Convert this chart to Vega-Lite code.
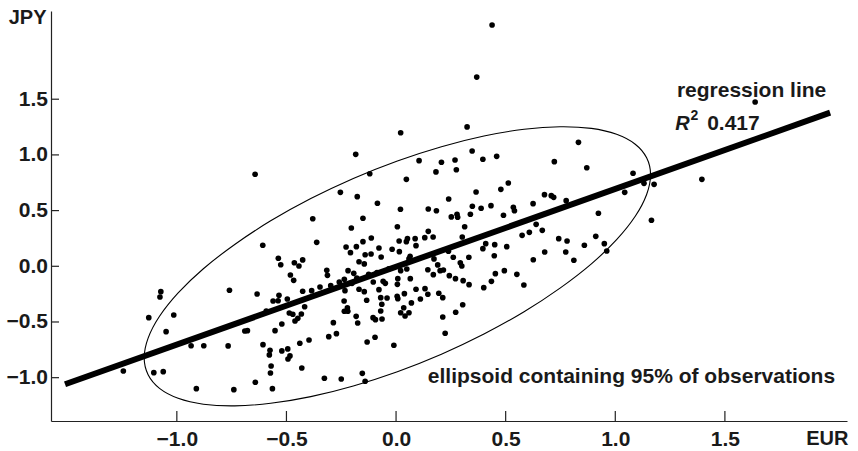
{
  "$schema": "https://vega.github.io/schema/vega-lite/v6.json",
  "width": 796,
  "height": 410,
  "autosize": {"type": "none"},
  "padding": {"left": 51, "top": 11, "right": 11, "bottom": 30},
  "background": "white",
  "config": {"view": {"stroke": null}, "font": "Liberation Sans"},
  "datasets": {
    "pts": [
      {"x":-0.537,"y":0.072},{"x":-0.526,"y":0.014},{"x":-0.464,"y":0.032},{"x":-0.443,"y":0.003},{"x":-0.426,"y":0.057},
      {"x":-0.482,"y":-0.078},{"x":-0.467,"y":-0.126},{"x":-1.073,"y":-0.228},{"x":-1.077,"y":-0.276},{"x":-0.760,"y":-0.215},
      {"x":-0.634,"y":-0.249},{"x":-0.534,"y":-0.260},{"x":-0.561,"y":-0.312},{"x":-0.538,"y":-0.309},{"x":-0.496,"y":-0.294},
      {"x":-0.426,"y":-0.224},{"x":-1.128,"y":-0.461},{"x":-1.014,"y":-0.437},{"x":-0.592,"y":-0.401},{"x":-0.487,"y":-0.419},
      {"x":-0.471,"y":-0.431},{"x":-0.432,"y":-0.428},{"x":-0.417,"y":-0.363},{"x":-0.461,"y":-0.491},{"x":-0.448,"y":-0.467},
      {"x":-0.521,"y":-0.518},{"x":-0.552,"y":-0.578},{"x":-0.690,"y":-0.581},{"x":-0.678,"y":-0.578},{"x":-1.049,"y":-0.587},
      {"x":-0.935,"y":-0.713},{"x":-0.877,"y":-0.713},{"x":-0.766,"y":-0.715},{"x":-0.607,"y":-0.704},{"x":-0.575,"y":-0.754},
      {"x":-0.578,"y":-0.796},{"x":-0.521,"y":-0.760},{"x":-0.494,"y":-0.742},{"x":-0.484,"y":-0.805},{"x":-0.493,"y":-0.832},
      {"x":-0.439,"y":-0.691},{"x":-0.397,"y":-0.662},{"x":-0.570,"y":-0.895},{"x":-0.573,"y":-0.958},{"x":-0.430,"y":-0.913},
      {"x":-1.244,"y":-0.940},{"x":-1.105,"y":-0.955},{"x":-1.062,"y":-0.946},{"x":-0.642,"y":-1.041},{"x":-0.564,"y":-1.099},
      {"x":-0.740,"y":-1.108},{"x":-0.911,"y":-1.099},
      {"x":-0.208,"y":0.122},{"x":-0.141,"y":0.104},{"x":-0.114,"y":0.110},{"x":-0.068,"y":0.083},{"x":0.015,"y":0.131},
      {"x":0.064,"y":0.090},{"x":0.059,"y":0.066},{"x":-0.169,"y":0.041},{"x":-0.145,"y":0.021},{"x":0.173,"y":0.066},
      {"x":0.239,"y":0.135},{"x":0.261,"y":0.081},{"x":0.293,"y":0.032},{"x":0.300,"y":0.003},{"x":0.332,"y":0.081},
      {"x":0.448,"y":0.095},{"x":-0.316,"y":-0.036},{"x":-0.313,"y":-0.081},{"x":-0.219,"y":-0.039},{"x":-0.193,"y":-0.063},
      {"x":-0.125,"y":-0.072},{"x":-0.087,"y":-0.057},{"x":-0.033,"y":-0.022},{"x":0.021,"y":-0.039},{"x":0.049,"y":-0.024},
      {"x":0.190,"y":0.012},{"x":0.201,"y":-0.039},{"x":0.145,"y":-0.031},{"x":0.170,"y":-0.075},{"x":0.216,"y":-0.033},
      {"x":0.243,"y":-0.084},{"x":0.271,"y":-0.111},{"x":0.306,"y":-0.129},{"x":0.333,"y":-0.165},{"x":0.400,"y":-0.192},
      {"x":0.435,"y":-0.135},{"x":0.453,"y":-0.066},{"x":0.494,"y":-0.039},{"x":-0.347,"y":-0.186},{"x":-0.298,"y":-0.174},
      {"x":-0.259,"y":-0.141},{"x":-0.236,"y":-0.117},{"x":-0.385,"y":-0.219},{"x":-0.201,"y":-0.153},{"x":-0.179,"y":-0.105},
      {"x":-0.104,"y":-0.141},{"x":-0.059,"y":-0.135},{"x":-0.049,"y":-0.153},{"x":0.008,"y":-0.111},{"x":0.065,"y":-0.111},
      {"x":0.006,"y":-0.162},{"x":-0.233,"y":-0.219},{"x":-0.169,"y":-0.206},{"x":-0.145,"y":-0.228},{"x":-0.078,"y":-0.210},
      {"x":0.091,"y":-0.206},{"x":0.132,"y":-0.201},{"x":0.038,"y":-0.246},{"x":0.145,"y":-0.251},{"x":0.195,"y":-0.242},
      {"x":-0.237,"y":-0.312},{"x":-0.134,"y":-0.305},{"x":-0.070,"y":-0.282},{"x":-0.041,"y":-0.285},{"x":0.005,"y":-0.269},
      {"x":0.008,"y":-0.291},{"x":0.111,"y":-0.294},{"x":0.213,"y":-0.282},{"x":0.070,"y":-0.329},{"x":-0.065,"y":-0.341},
      {"x":-0.222,"y":-0.374},{"x":-0.236,"y":-0.404},{"x":-0.220,"y":-0.404},{"x":-0.070,"y":-0.401},{"x":0.035,"y":-0.372},
      {"x":0.021,"y":-0.417},{"x":0.059,"y":-0.417},{"x":0.041,"y":-0.446},{"x":0.304,"y":-0.345},{"x":0.272,"y":-0.413},
      {"x":-0.182,"y":-0.449},{"x":-0.105,"y":-0.461},{"x":-0.094,"y":-0.479},{"x":-0.064,"y":-0.473},{"x":0.213,"y":-0.455},
      {"x":-0.286,"y":-0.506},{"x":-0.175,"y":-0.509},{"x":0.224,"y":-0.601},{"x":-0.272,"y":-0.605},{"x":-0.307,"y":-0.632},
      {"x":-0.096,"y":-0.637},{"x":-0.132,"y":-0.680},{"x":-0.010,"y":-0.709},{"x":-0.327,"y":-1.005},{"x":-0.250,"y":-1.012},
      {"x":-0.154,"y":-0.961},{"x":-0.141,"y":-1.032},
      {"x":0.551,"y":-0.072},{"x":0.583,"y":-0.168},{"x":0.626,"y":0.059},{"x":0.678,"y":0.128},{"x":0.774,"y":0.128},
      {"x":0.811,"y":0.054},{"x":0.961,"y":0.137},
      {"x":-0.643,"y":0.826},{"x":-0.608,"y":0.189},
      {"x":0.324,"y":1.251},{"x":0.021,"y":1.199},{"x":-0.184,"y":1.005},{"x":0.347,"y":1.035},{"x":0.105,"y":0.948},
      {"x":0.207,"y":0.934},{"x":0.269,"y":0.954},{"x":0.396,"y":0.961},{"x":0.459,"y":0.987},{"x":0.182,"y":0.847},
      {"x":0.275,"y":0.867},{"x":-0.120,"y":0.831},{"x":0.047,"y":0.781},{"x":-0.254,"y":0.664},{"x":-0.177,"y":0.625},
      {"x":0.365,"y":0.667},{"x":0.478,"y":0.691},{"x":0.512,"y":0.748},{"x":0.240,"y":0.604},{"x":-0.085,"y":0.566},
      {"x":0.348,"y":0.539},{"x":0.388,"y":0.521},{"x":0.433,"y":0.544},{"x":0.020,"y":0.512},{"x":0.147,"y":0.514},
      {"x":0.184,"y":0.499},{"x":-0.380,"y":0.427},{"x":-0.151,"y":0.431},{"x":0.252,"y":0.443},{"x":0.278,"y":0.467},
      {"x":0.281,"y":0.440},{"x":0.339,"y":0.467},{"x":0.490,"y":0.458},{"x":-0.204,"y":0.344},{"x":0.006,"y":0.355},
      {"x":0.313,"y":0.355},{"x":0.147,"y":0.314},{"x":-0.113,"y":0.254},{"x":0.052,"y":0.248},{"x":0.047,"y":0.221},
      {"x":0.087,"y":0.248},{"x":0.131,"y":0.257},{"x":0.169,"y":0.263},{"x":0.302,"y":0.263},{"x":-0.362,"y":0.215},
      {"x":-0.151,"y":0.221},{"x":0.014,"y":0.227},{"x":0.091,"y":0.185},{"x":-0.228,"y":0.173},{"x":-0.181,"y":0.176},
      {"x":-0.078,"y":0.164},{"x":-0.018,"y":0.153},{"x":0.409,"y":0.203},{"x":0.450,"y":0.194},{"x":0.396,"y":0.158},
      {"x":0.505,"y":0.176},
      {"x":0.832,"y":1.113},{"x":0.722,"y":0.939},{"x":0.870,"y":0.885},{"x":1.081,"y":0.835},{"x":1.131,"y":0.745},
      {"x":1.177,"y":0.736},{"x":1.395,"y":0.781},{"x":0.677,"y":0.643},{"x":0.708,"y":0.634},{"x":0.719,"y":0.619},
      {"x":0.776,"y":0.589},{"x":1.043,"y":0.664},{"x":0.625,"y":0.562},{"x":0.535,"y":0.530},{"x":0.540,"y":0.499},
      {"x":0.923,"y":0.476},{"x":1.165,"y":0.413},{"x":0.639,"y":0.377},{"x":0.667,"y":0.323},{"x":0.575,"y":0.278},
      {"x":0.608,"y":0.305},{"x":0.742,"y":0.248},{"x":0.780,"y":0.227},{"x":0.911,"y":0.269},{"x":0.859,"y":0.189},
      {"x":0.950,"y":0.203},
      {"x":0.438,"y":2.166},{"x":0.368,"y":1.699},{"x":1.638,"y":1.475}
    ],
    "ell": [
      {"i":0,"x":1.161,"y":0.822},{"i":1,"x":1.143,"y":0.974},{"i":2,"x":1.091,"y":1.096},{"i":3,"x":1.006,"y":1.185},
      {"i":4,"x":0.891,"y":1.238},{"i":5,"x":0.748,"y":1.253},{"i":6,"x":0.584,"y":1.230},{"i":7,"x":0.401,"y":1.170},
      {"i":8,"x":0.207,"y":1.074},{"i":9,"x":0.006,"y":0.946},{"i":10,"x":-0.195,"y":0.789},{"i":11,"x":-0.389,"y":0.608},
      {"i":12,"x":-0.572,"y":0.408},{"i":13,"x":-0.736,"y":0.196},{"i":14,"x":-0.879,"y":-0.022},{"i":15,"x":-0.994,"y":-0.239},
      {"i":16,"x":-1.079,"y":-0.449},{"i":17,"x":-1.131,"y":-0.645},{"i":18,"x":-1.149,"y":-0.822},{"i":19,"x":-1.131,"y":-0.974},
      {"i":20,"x":-1.079,"y":-1.096},{"i":21,"x":-0.994,"y":-1.185},{"i":22,"x":-0.879,"y":-1.238},{"i":23,"x":-0.736,"y":-1.253},
      {"i":24,"x":-0.572,"y":-1.230},{"i":25,"x":-0.389,"y":-1.170},{"i":26,"x":-0.195,"y":-1.074},{"i":27,"x":0.006,"y":-0.946},
      {"i":28,"x":0.207,"y":-0.789},{"i":29,"x":0.401,"y":-0.608},{"i":30,"x":0.584,"y":-0.408},{"i":31,"x":0.748,"y":-0.196},
      {"i":32,"x":0.891,"y":0.022},{"i":33,"x":1.006,"y":0.239},{"i":34,"x":1.091,"y":0.449},{"i":35,"x":1.143,"y":0.645}
    ],
    "reg": [{"x":-1.51,"y":-1.059},{"x":1.98,"y":1.379}],
    "ticks": [{"v":-1},{"v":-0.5},{"v":0},{"v":0.5},{"v":1},{"v":1.5}]
  },
  "layer": [
    {
      "data": {"name": "pts"},
      "mark": {"type": "circle", "color": "black", "opacity": 1, "size": 32},
      "encoding": {
        "x": {
          "field": "x", "type": "quantitative",
          "scale": {"domain": [-1.574, 2.057], "nice": false, "zero": false},
          "axis": {
            "values": [-1, -0.5, 0, 0.5, 1, 1.5], "format": ".1f", "grid": false, "ticks": false,
            "domainColor": "#222", "domainWidth": 1.2,
            "labelFont": "Liberation Sans", "labelFontSize": 21, "labelFontWeight": "bold", "labelColor": "#1a1a1a",
            "labelPadding": 7, "labelFlush": false, "labelOverlap": false,
            "title": "EUR", "titleFont": "Liberation Sans", "titleFontSize": 20, "titleFontWeight": "bold", "titleColor": "#1a1a1a",
            "titleX": 797, "titleY": 23, "titleAlign": "right", "titleBaseline": "alphabetic", "titleAnchor": "end"
          }
        },
        "y": {
          "field": "y", "type": "quantitative",
          "scale": {"domain": [-1.389, 2.292], "nice": false, "zero": false},
          "axis": {
            "values": [-1, -0.5, 0, 0.5, 1, 1.5], "format": ".1f", "grid": false, "ticks": false,
            "domainColor": "#222", "domainWidth": 1.2,
            "labelFont": "Liberation Sans", "labelFontSize": 21, "labelFontWeight": "bold", "labelColor": "#1a1a1a",
            "labelPadding": 3.5, "labelFlush": false, "labelOverlap": false,
            "title": "JPY", "titleFont": "Liberation Sans", "titleFontSize": 20, "titleFontWeight": "bold", "titleColor": "#1a1a1a",
            "titleAngle": 0, "titleX": -5, "titleY": 12, "titleAlign": "right", "titleBaseline": "alphabetic"
          }
        }
      }
    },
    {
      "data": {"name": "ticks"},
      "mark": {"type": "tick", "orient": "vertical", "color": "#222", "size": 10, "thickness": 1.2, "yOffset": -5, "opacity": 1},
      "encoding": {
        "x": {"field": "v", "type": "quantitative"},
        "y": {"datum": -1.389, "type": "quantitative"}
      }
    },
    {
      "data": {"name": "ticks"},
      "mark": {"type": "tick", "orient": "horizontal", "color": "#222", "size": 8, "thickness": 1.2, "xOffset": 4, "opacity": 1},
      "encoding": {
        "y": {"field": "v", "type": "quantitative"},
        "x": {"datum": -1.574, "type": "quantitative"}
      }
    },
    {
      "data": {"name": "ell"},
      "mark": {"type": "line", "interpolate": "cardinal-closed", "color": "black", "strokeWidth": 1.1},
      "encoding": {
        "x": {"field": "x", "type": "quantitative"},
        "y": {"field": "y", "type": "quantitative"},
        "order": {"field": "i", "type": "quantitative"}
      }
    },
    {
      "data": {"name": "reg"},
      "mark": {"type": "line", "color": "black", "strokeWidth": 6},
      "encoding": {
        "x": {"field": "x", "type": "quantitative"},
        "y": {"field": "y", "type": "quantitative"}
      }
    },
    {
      "data": {"values": [{"label": "regression line"}]},
      "mark": {"type": "text", "align": "left", "baseline": "alphabetic", "font": "Liberation Sans", "fontSize": 21, "fontWeight": "bold", "color": "#1a1a1a"},
      "encoding": {"x": {"datum": 1.281, "type": "quantitative"}, "y": {"datum": 1.517, "type": "quantitative"}, "text": {"field": "label", "type": "nominal"}}
    },
    {
      "data": {"values": [{"label": "R"}]},
      "mark": {"type": "text", "align": "left", "baseline": "alphabetic", "font": "Liberation Sans", "fontSize": 20, "fontWeight": "bold", "fontStyle": "italic", "color": "#1a1a1a"},
      "encoding": {"x": {"datum": 1.273, "type": "quantitative"}, "y": {"datum": 1.228, "type": "quantitative"}, "text": {"field": "label", "type": "nominal"}}
    },
    {
      "data": {"values": [{"label": "2"}]},
      "mark": {"type": "text", "align": "left", "baseline": "alphabetic", "font": "Liberation Sans", "fontSize": 14, "fontWeight": "bold", "color": "#1a1a1a"},
      "encoding": {"x": {"datum": 1.343, "type": "quantitative"}, "y": {"datum": 1.313, "type": "quantitative"}, "text": {"field": "label", "type": "nominal"}}
    },
    {
      "data": {"values": [{"label": "0.417"}]},
      "mark": {"type": "text", "align": "left", "baseline": "alphabetic", "font": "Liberation Sans", "fontSize": 21, "fontWeight": "bold", "color": "#1a1a1a"},
      "encoding": {"x": {"datum": 1.419, "type": "quantitative"}, "y": {"datum": 1.228, "type": "quantitative"}, "text": {"field": "label", "type": "nominal"}}
    },
    {
      "data": {"values": [{"label": "ellipsoid containing 95% of observations"}]},
      "mark": {"type": "text", "align": "left", "baseline": "alphabetic", "font": "Liberation Sans", "fontSize": 21, "fontWeight": "bold", "color": "#1a1a1a"},
      "encoding": {"x": {"datum": 0.145, "type": "quantitative"}, "y": {"datum": -1.045, "type": "quantitative"}, "text": {"field": "label", "type": "nominal"}}
    }
  ]
}
